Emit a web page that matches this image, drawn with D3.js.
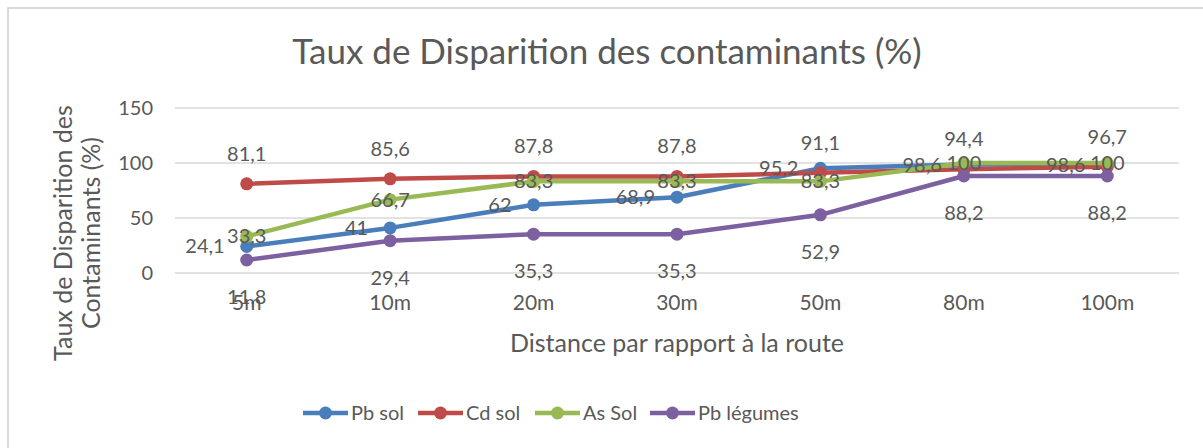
<!DOCTYPE html>
<html>
<head>
<meta charset="utf-8">
<script src="https://cdn.jsdelivr.net/npm/d3@7"></script>
<style>
  body { margin: 0; background: #fff; }
  svg text { font-family: Lato, "Open Sans", sans-serif; fill: #595959; }
</style>
</head>
<body>
<svg id="chart"></svg>
<script>
// data
const distances = ["5m", "10m", "20m", "30m", "50m", "80m", "100m"];
const pbSol = [24.1, 41, 62, 68.9, 95.2, 98.6, 98.6];
const cdSol = [81.1, 85.6, 87.8, 87.8, 91.1, 94.4, 96.7];
const asSol = [33.3, 66.7, 83.3, 83.3, 83.3, 100, 100];
const pbLegumes = [11.8, 29.4, 35.3, 35.3, 52.9, 88.2, 88.2];
const yTicks = [0, 50, 100, 150];

const series = [
  { name: "Pb sol", values: pbSol, color: "#4a7ebb", pos: "left" },
  { name: "Cd sol", values: cdSol, color: "#be4b48", pos: "above" },
  { name: "As Sol", values: asSol, color: "#98b954", pos: "center" },
  { name: "Pb légumes", values: pbLegumes, color: "#7d60a0", pos: "below" },
];

const W = 1203, H = 448;
const margin = { top: 108, right: 24, bottom: 175, left: 175 };
const width = W - margin.left - margin.right,
  height = H - margin.top - margin.bottom;

const svg = d3.select("#chart").attr("width", W).attr("height", H);

// chart frame
svg.append("path")
  .attr("d", `M8,${H} L8,8 L${W},8`)
  .attr("fill", "none")
  .attr("stroke", "#d9d9d9")
  .attr("stroke-width", 2);

svg.append("text")
  .attr("x", 607)
  .attr("y", 64)
  .attr("text-anchor", "middle")
  .style("font-size", "35px")
  .text("Taux de Disparition des contaminants (%)");

const g = svg.append("g").attr("transform", `translate(${margin.left},${margin.top})`);

const xScale = d3.scaleBand().domain(distances).range([0, width]);
const yScale = d3.scaleLinear().domain([0, 150]).range([height, 0]);

// gridlines
g.append("g")
  .selectAll("line")
  .data(yTicks)
  .join("line")
  .attr("x1", 0)
  .attr("x2", width)
  .attr("y1", (d) => yScale(d))
  .attr("y2", (d) => yScale(d))
  .attr("stroke", "#d9d9d9")
  .attr("stroke-width", 1.5);

const yAxis = g.append("g")
  .call(d3.axisLeft(yScale).tickValues(yTicks).tickSize(0).tickPadding(22));
yAxis.select(".domain").remove();
yAxis.selectAll("text").style("font-size", "20px").attr("fill", "#595959");

const xAxis = g.append("g")
  .attr("transform", `translate(0,${height})`)
  .call(d3.axisBottom(xScale).tickSize(0).tickPadding(22));
xAxis.select(".domain").remove();
xAxis.selectAll("text").style("font-size", "21px").attr("fill", "#595959");

// axis titles
svg.append("text")
  .attr("x", margin.left + width / 2)
  .attr("y", 352)
  .attr("text-anchor", "middle")
  .style("font-size", "25px")
  .text("Distance par rapport à la route");

const yTitle = svg.append("text")
  .attr("transform", "translate(72,233) rotate(-90)")
  .attr("text-anchor", "middle")
  .style("font-size", "25px");
yTitle.append("tspan").attr("x", 0).attr("dy", 0).text("Taux de Disparition des");
yTitle.append("tspan").attr("x", 0).attr("dy", 28).text("Contaminants (%)");

const cx = (i) => xScale(distances[i]) + xScale.bandwidth() / 2;

const line = d3.line()
  .x((d, i) => cx(i))
  .y((d) => yScale(d));

series.forEach((s) => {
  const sg = g.append("g");
  sg.append("path")
    .datum(s.values)
    .attr("d", line)
    .attr("fill", "none")
    .attr("stroke", s.color)
    .attr("stroke-width", 4.5)
    .attr("stroke-linejoin", "round");
  sg.selectAll("circle")
    .data(s.values)
    .join("circle")
    .attr("cx", (d, i) => cx(i))
    .attr("cy", (d) => yScale(d))
    .attr("r", 6.5)
    .attr("fill", s.color);
});

// data labels (drawn after every line, like the original)
series.forEach((s) => {
  g.append("g")
    .selectAll("text")
    .data(s.values)
    .join("text")
    .attr("x", (d, i) => (s.pos === "left" ? cx(i) - 22 : cx(i)))
    .attr("y", (d) => {
      const y = yScale(d);
      if (s.pos === "above") return y - 23;
      if (s.pos === "below") return y + 44;
      return y + 7;
    })
    .attr("text-anchor", s.pos === "left" ? "end" : "middle")
    .style("font-size", "20px")
    .attr("fill", "#404040")
    .text((d) => String(d).replace(".", ","));
});

// legend
const legendX = [303, 418, 535, 650];
const legend = svg.append("g").attr("transform", "translate(0,413)");
series.forEach((s, i) => {
  const lg = legend.append("g").attr("transform", `translate(${legendX[i]},0)`);
  lg.append("line")
    .attr("x1", 0).attr("x2", 45)
    .attr("stroke", s.color).attr("stroke-width", 4.5);
  lg.append("circle").attr("cx", 22.5).attr("r", 6.5).attr("fill", s.color);
  lg.append("text")
    .attr("x", 48)
    .attr("y", 7)
    .style("font-size", "20px")
    .text(s.name);
});
</script>
</body>
</html>
